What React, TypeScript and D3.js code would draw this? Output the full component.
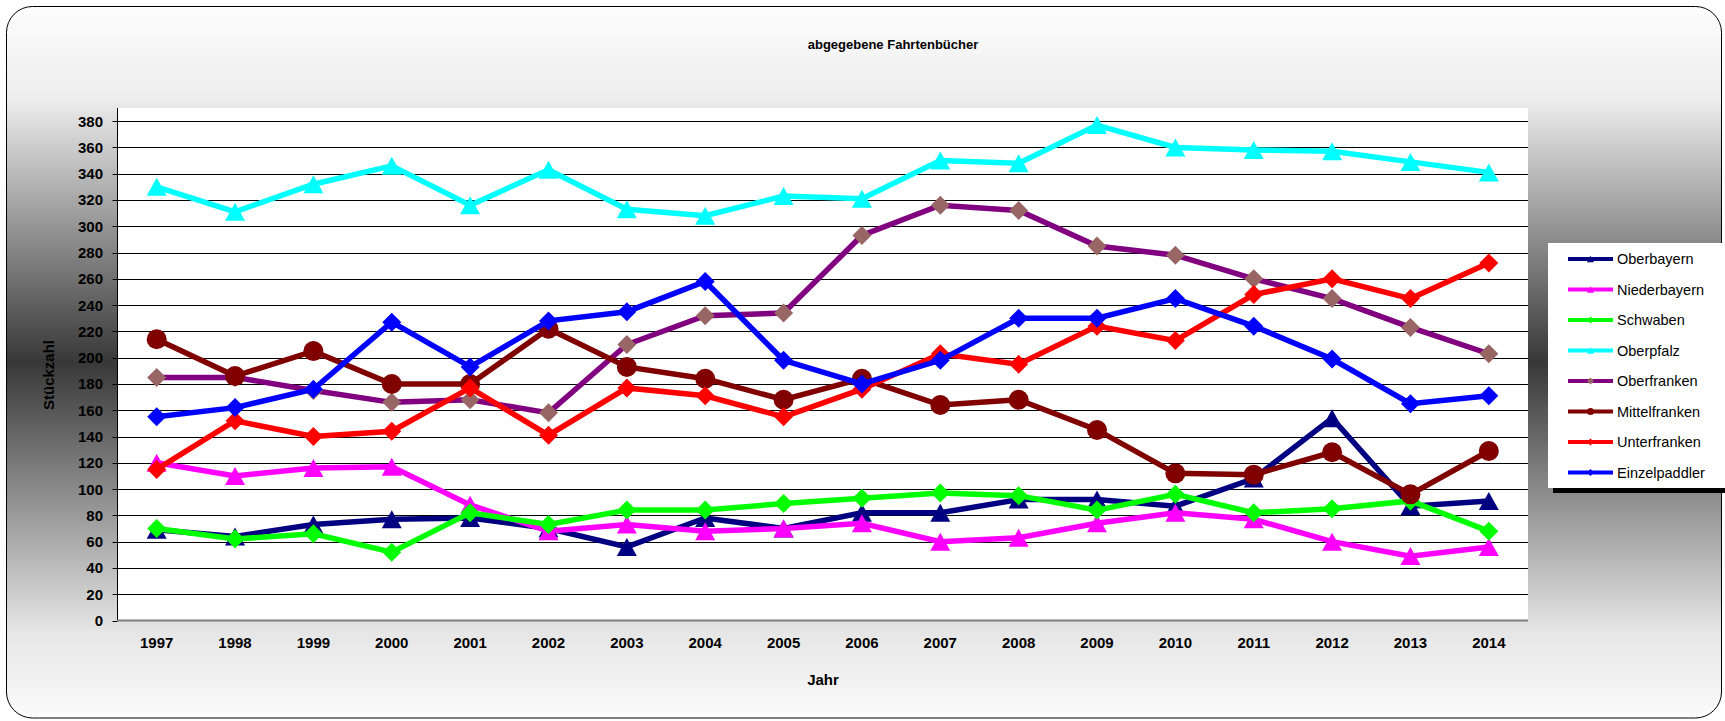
import React from "react";
import * as d3 from "d3";

const years = ["1997","1998","1999","2000","2001","2002","2003","2004","2005","2006","2007","2008","2009","2010","2011","2012","2013","2014"];
const yTicks = [0,20,40,60,80,100,120,140,160,180,200,220,240,260,280,300,320,340,360,380];

const oberbayern = [69,64,73,77,78,70,56,78,70,82,82,92,92,87,108,154,87,91];
const niederbayern = [120,110,116,117,88,68,73,68,70,74,60,63,74,82,77,60,49,56];
const schwaben = [70,62,66,52,82,73,84,84,89,93,97,95,84,96,82,85,91,68];
const oberpfalz = [330,311,332,346,316,343,313,308,323,321,350,348,377,360,358,357,349,341];
const oberfranken = [185,185,175,166,168,158,210,232,234,293,316,312,285,278,260,245,223,203];
const mittelfranken = [214,186,205,180,180,222,193,184,168,184,164,168,145,112,111,128,96,129];
const unterfranken = [115,152,140,144,177,141,177,171,155,176,203,195,224,213,248,260,245,272];
const einzelpaddler = [155,162,176,227,193,228,235,258,198,180,198,230,230,245,224,199,165,171];

const seriesNames = ["Oberbayern","Niederbayern","Schwaben","Oberpfalz","Oberfranken","Mittelfranken","Unterfranken","Einzelpaddler"];
const seriesValues = [oberbayern, niederbayern, schwaben, oberpfalz, oberfranken, mittelfranken, unterfranken, einzelpaddler];
const lineColors = ["#000080","#ff00ff","#00ff00","#00ffff","#800080","#800000","#ff0000","#0000ff"];
const markerColors = ["#000080","#ff00ff","#00ff00","#00ffff","#996666","#800000","#ff0000","#0000ff"];
const markerShapes = ["triangle","triangle","diamond","triangle","diamond","circle","diamond","diamond"];

const FONT = "'Liberation Sans', Arial, sans-serif";

function Marker({ shape, x, y, size, color }: { shape: string; x: number; y: number; size: number; color: string }) {
  const h = size / 2;
  if (shape === "triangle") {
    const ht = size * 0.9;
    return <polygon points={`${x},${y - ht / 2} ${x + h},${y + ht / 2} ${x - h},${y + ht / 2}`} fill={color} />;
  }
  if (shape === "circle") {
    return <circle cx={x} cy={y} r={h} fill={color} />;
  }
  return <polygon points={`${x},${y - h} ${x + h},${y} ${x},${y + h} ${x - h},${y}`} fill={color} />;
}

export default function App() {
  const W = 1725, H = 721;
  const left = 117.5, right = 1528, top = 108, bottom = 620.5;
  const x = d3.scalePoint<string>().domain(years).range([left, right]).padding(0.5);
  const y = d3.scaleLinear().domain([0, 390]).range([bottom, top]);
  const line = d3.line<number>().x((_, i) => x(years[i]) as number).y((d) => y(d));

  const legX = 1548, legY = 243, legStep = 30.5;

  return (
    <svg width={W} height={H} style={{ position: "absolute", left: 0, top: 0 }} fontFamily={FONT}>
      <defs>
        <linearGradient id="bg" x1="0" y1="0" x2="0" y2="1">
          <stop offset="0" stopColor="#fdfdfd" />
          <stop offset="0.13" stopColor="#ededed" />
          <stop offset="0.5" stopColor="#383838" />
          <stop offset="0.88" stopColor="#e6e6e6" />
          <stop offset="1" stopColor="#fbfbfb" />
        </linearGradient>
      </defs>
      <rect x={0} y={0} width={W} height={H} fill="#ffffff" />
      <rect x={6.5} y={6.5} width={1715} height={711.5} rx={26} ry={26} fill="url(#bg)" stroke="#000" strokeWidth={1} />
      <rect x={left} y={top} width={right - left} height={bottom - top} fill="#ffffff" />
      {yTicks.map((t) => (
        <g key={t}>
          {t > 0 && <line x1={left} x2={right} y1={Math.round(y(t)) + 0.5} y2={Math.round(y(t)) + 0.5} stroke="#000" strokeWidth={1} />}
          <line x1={left - 5} x2={left} y1={Math.round(y(t)) + 0.5} y2={Math.round(y(t)) + 0.5} stroke="#000" strokeWidth={1} />
          <text x={103} y={y(t)} textAnchor="end" dominantBaseline="central" fontSize={15} fontWeight="bold" fill="#000">{t}</text>
        </g>
      ))}
      <line x1={left} x2={left} y1={top} y2={bottom} stroke="#000" strokeWidth={1} />
      <line x1={left} x2={right} y1={bottom} y2={bottom} stroke="#808080" strokeWidth={2} />
      {years.map((yr) => (
        <text key={yr} x={x(yr)} y={642} textAnchor="middle" dominantBaseline="central" fontSize={15} fontWeight="bold" fill="#000">{yr}</text>
      ))}
      <text x={893} y={44} textAnchor="middle" dominantBaseline="central" fontSize={13} fontWeight="bold" fill="#000">abgegebene Fahrtenbücher</text>
      <text x={823} y={679} textAnchor="middle" dominantBaseline="central" fontSize={15} fontWeight="bold" fill="#000">Jahr</text>
      <text transform={`translate(48,375) rotate(-90)`} textAnchor="middle" dominantBaseline="central" fontSize={15} fontWeight="bold" fill="#000">Stückzahl</text>

      {seriesValues.map((vals, s) => (
        <g key={seriesNames[s]}>
          <path d={line(vals) || ""} fill="none" stroke={lineColors[s]} strokeWidth={5.5} strokeLinejoin="miter" />
          {vals.map((v, i) => (
            <Marker key={i} shape={markerShapes[s]} x={x(years[i]) as number} y={y(v)} size={markerShapes[s] === "diamond" ? 19 : 20} color={markerColors[s]} />
          ))}
        </g>
      ))}

      <rect x={legX + 5} y={legY + 5} width={200} height={245} fill="#000" />
      <rect x={legX} y={legY} width={200} height={245} fill="#fff" />
      {seriesNames.map((name, s) => {
        const ly = legY + 16 + s * legStep;
        return (
          <g key={name}>
            <line x1={1568} x2={1613} y1={ly} y2={ly} stroke={lineColors[s]} strokeWidth={4} />
            <Marker shape={markerShapes[s]} x={1590.5} y={ly} size={7} color={markerColors[s]} />
            <text x={1617} y={ly} dominantBaseline="central" fontSize={14.5} fill="#000">{name}</text>
          </g>
        );
      })}
    </svg>
  );
}
